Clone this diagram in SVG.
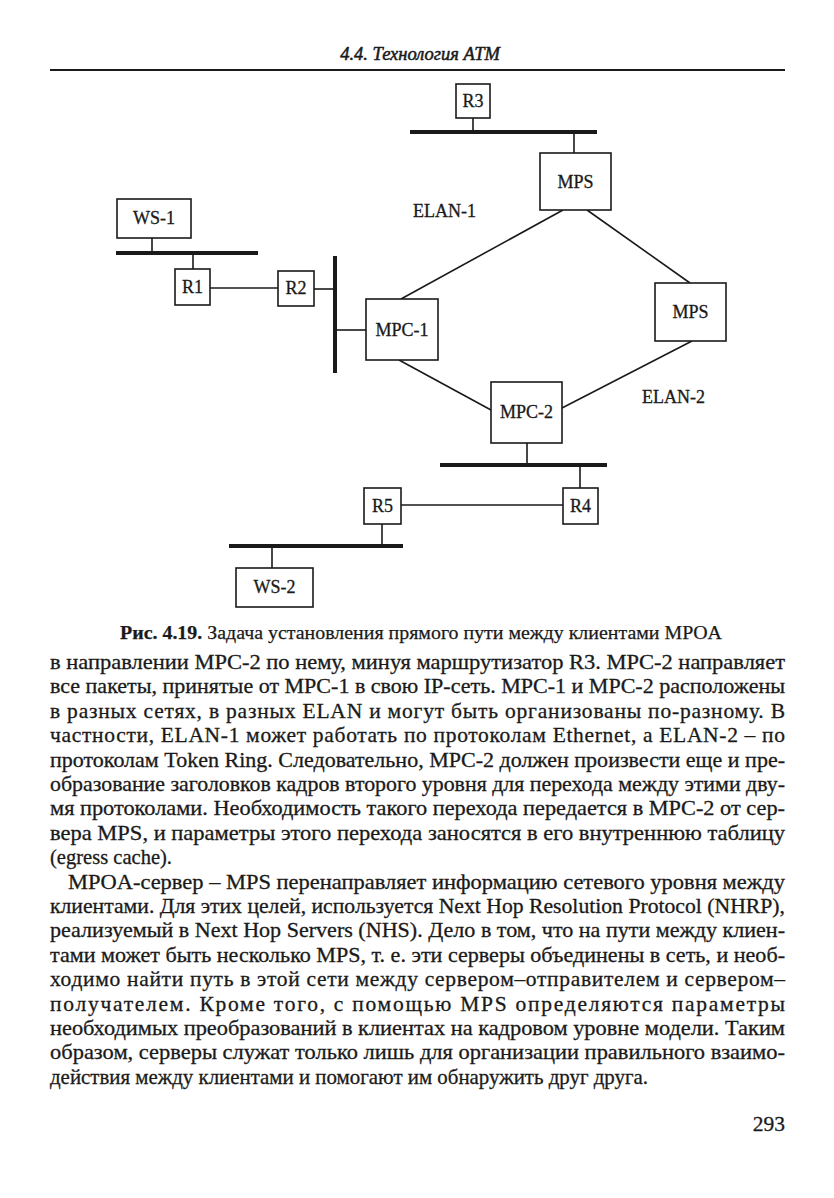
<svg xmlns="http://www.w3.org/2000/svg" width="834" height="1198" viewBox="0 0 834 1198">
<style>
.bg{fill:#ffffff}
.box{fill:#ffffff;stroke:#1a1a1a;stroke-width:1.6}
.lbl{font-family:"Liberation Serif","Times New Roman",serif;font-size:18px;fill:#1a1a1a;stroke:#1a1a1a;stroke-width:0.3;text-anchor:middle}
.free{font-family:"Liberation Serif","Times New Roman",serif;font-size:18px;fill:#1a1a1a;stroke:#1a1a1a;stroke-width:0.3}
.ln{stroke:#1a1a1a;stroke-width:1.6;fill:none}
.bus{stroke:#1a1a1a;stroke-width:4;fill:none}
.body{font-family:"Liberation Serif","Times New Roman",serif;font-size:21.5px;fill:#1a1a1a;stroke:#1a1a1a;stroke-width:0.3}
.cap{font-family:"Liberation Serif","Times New Roman",serif;font-size:19.5px;fill:#1a1a1a;stroke:#1a1a1a;stroke-width:0.25}
.hdr{font-family:"Liberation Serif","Times New Roman",serif;font-size:18.5px;font-style:italic;fill:#1a1a1a;stroke:#1a1a1a;stroke-width:0.5;text-anchor:middle}
</style>
<rect class="bg" x="0" y="0" width="834" height="1198"/>
<g id="header">
<text class="hdr" x="420" y="60">4.4. Технология ATM</text>
<line x1="50" y1="70" x2="785" y2="70" stroke="#1a1a1a" stroke-width="2.2"/>
</g>
<g id="connectors">
<line class="ln" x1="473" y1="118" x2="473" y2="132"/>
<line class="bus" x1="410" y1="132" x2="597" y2="132"/>
<line class="ln" x1="574" y1="132" x2="574" y2="153"/>
<line class="ln" x1="152" y1="238" x2="152" y2="253"/>
<line class="bus" x1="116" y1="253" x2="258" y2="253"/>
<line class="ln" x1="193" y1="253" x2="193" y2="269"/>
<line class="ln" x1="210" y1="288" x2="278" y2="288"/>
<line class="ln" x1="314" y1="289" x2="335" y2="289"/>
<line class="bus" x1="335" y1="256" x2="335" y2="373"/>
<line class="ln" x1="335" y1="330" x2="366" y2="330"/>
<line class="ln" x1="563" y1="210" x2="401" y2="299"/>
<line class="ln" x1="587" y1="210" x2="690" y2="283"/>
<line class="ln" x1="399" y1="360" x2="491" y2="410"/>
<line class="ln" x1="692" y1="341" x2="562" y2="408"/>
<line class="ln" x1="527" y1="443" x2="527" y2="465"/>
<line class="bus" x1="440" y1="465" x2="607" y2="465"/>
<line class="ln" x1="580" y1="465" x2="580" y2="488"/>
<line class="ln" x1="401" y1="505" x2="563" y2="505"/>
<line class="ln" x1="382" y1="524" x2="382" y2="546"/>
<line class="bus" x1="229" y1="546" x2="403" y2="546"/>
<line class="ln" x1="272" y1="546" x2="272" y2="568"/>
</g>
<g id="R3"><rect class="box" x="456" y="84" width="34" height="34"/><text class="lbl" x="473" y="107">R3</text></g>
<g id="MPS-1"><rect class="box" x="540" y="153" width="71" height="57"/><text class="lbl" x="575.5" y="188">MPS</text></g>
<g id="ELAN-1"><text class="free" x="413" y="217">ELAN-1</text></g>
<g id="WS-1"><rect class="box" x="117" y="199" width="74" height="39"/><text class="lbl" x="154" y="224">WS-1</text></g>
<g id="R1"><rect class="box" x="175" y="269" width="35" height="36"/><text class="lbl" x="192.5" y="293">R1</text></g>
<g id="R2"><rect class="box" x="278" y="271" width="36" height="35"/><text class="lbl" x="296" y="294">R2</text></g>
<g id="MPC-1"><rect class="box" x="366" y="299" width="72" height="61"/><text class="lbl" x="402" y="336">MPC-1</text></g>
<g id="MPS-2"><rect class="box" x="655" y="283" width="71" height="58"/><text class="lbl" x="690.5" y="318">MPS</text></g>
<g id="MPC-2"><rect class="box" x="491" y="382" width="71" height="61"/><text class="lbl" x="526.5" y="418">MPC-2</text></g>
<g id="ELAN-2"><text class="free" x="642" y="403">ELAN-2</text></g>
<g id="R4"><rect class="box" x="563" y="488" width="35" height="36"/><text class="lbl" x="580.5" y="512">R4</text></g>
<g id="R5"><rect class="box" x="364" y="488" width="37" height="36"/><text class="lbl" x="382.5" y="512">R5</text></g>
<g id="WS-2"><rect class="box" x="236" y="568" width="77" height="39"/><text class="lbl" x="274.5" y="593">WS-2</text></g>
<g id="caption">
<text class="cap" x="120" y="639" textLength="602" lengthAdjust="spacingAndGlyphs"><tspan font-weight="bold">Рис. 4.19.</tspan> Задача установления прямого пути между клиентами MPOA</text>
</g>
<g id="body">
<text class="body" x="50" y="669" textLength="735" lengthAdjust="spacingAndGlyphs">в направлении MPC-2 по нему, минуя маршрутизатор R3. MPC-2 направляет</text>
<text class="body" x="50" y="693.4" textLength="735" lengthAdjust="spacingAndGlyphs">все пакеты, принятые от MPC-1 в свою IP-сеть. MPC-1 и MPC-2 расположены</text>
<text class="body" x="50" y="717.8" textLength="735" lengthAdjust="spacing">в разных сетях, в разных ELAN и могут быть организованы по-разному. В</text>
<text class="body" x="50" y="742.2" textLength="735" lengthAdjust="spacing">частности, ELAN-1 может работать по протоколам Ethernet, а ELAN-2 – по</text>
<text class="body" x="50" y="766.6" textLength="735" lengthAdjust="spacingAndGlyphs">протоколам Token Ring. Следовательно, MPC-2 должен произвести еще и пре-</text>
<text class="body" x="50" y="791" textLength="735" lengthAdjust="spacingAndGlyphs">образование заголовков кадров второго уровня для перехода между этими дву-</text>
<text class="body" x="50" y="815.4" textLength="735" lengthAdjust="spacingAndGlyphs">мя протоколами. Необходимость такого перехода передается в MPC-2 от сер-</text>
<text class="body" x="50" y="839.8" textLength="735" lengthAdjust="spacingAndGlyphs">вера MPS, и параметры этого перехода заносятся в его внутреннюю таблицу</text>
<text class="body" x="50" y="864.2" textLength="122" lengthAdjust="spacingAndGlyphs">(egress cache).</text>
<text class="body" x="68" y="888.6" textLength="717" lengthAdjust="spacingAndGlyphs">MPOA-сервер – MPS перенаправляет информацию сетевого уровня между</text>
<text class="body" x="50" y="913" textLength="735" lengthAdjust="spacingAndGlyphs">клиентами. Для этих целей, используется Next Hop Resolution Protocol (NHRP),</text>
<text class="body" x="50" y="937.4" textLength="735" lengthAdjust="spacingAndGlyphs">реализуемый в Next Hop Servers (NHS). Дело в том, что на пути между клиен-</text>
<text class="body" x="50" y="961.8" textLength="735" lengthAdjust="spacingAndGlyphs">тами может быть несколько MPS, т. е. эти серверы объединены в сеть, и необ-</text>
<text class="body" x="50" y="986.2" textLength="735" lengthAdjust="spacing">ходимо найти путь в этой сети между сервером–отправителем и сервером–</text>
<text class="body" x="50" y="1010.6" textLength="735" lengthAdjust="spacing">получателем. Кроме того, с помощью MPS определяются параметры</text>
<text class="body" x="50" y="1035" textLength="735" lengthAdjust="spacingAndGlyphs">необходимых преобразований в клиентах на кадровом уровне модели. Таким</text>
<text class="body" x="50" y="1059.4" textLength="735" lengthAdjust="spacingAndGlyphs">образом, серверы служат только лишь для организации правильного взаимо-</text>
<text class="body" x="50" y="1083.8" textLength="598" lengthAdjust="spacingAndGlyphs">действия между клиентами и помогают им обнаружить друг друга.</text>
<text class="body" x="785" y="1131" text-anchor="end">293</text>
</g>
</svg>
